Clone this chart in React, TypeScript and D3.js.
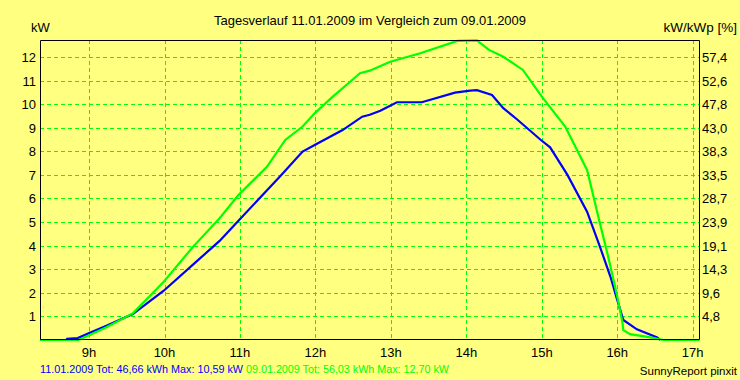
import React from "react";
import * as d3 from "d3";

const title = "Tagesverlauf 11.01.2009 im Vergleich zum 09.01.2009";
const hourTicks = [9, 10, 11, 12, 13, 14, 15, 16, 17];
const kwTicks = [1, 2, 3, 4, 5, 6, 7, 8, 9, 10, 11, 12];
const pctLabels = ["4,8", "9,6", "14,3", "19,1", "23,9", "28,7", "33,5", "38,3", "43,0", "47,8", "52,6", "57,4"];

// 11.01.2009 (blue)
const blueTimes = [8.35, 8.7, 8.71, 8.85, 9.01, 9.23, 9.58, 9.99, 10.47, 10.73, 10.98, 11.53, 11.83, 11.99, 12.36, 12.62, 12.72, 12.86, 13.08, 13.41, 13.85, 14.05, 14.14, 14.34, 14.49, 14.67, 14.98, 15.11, 15.34, 15.6, 15.77, 15.91, 16.0, 16.08, 16.26, 16.53, 16.57];
const blueValues = [0, 0, 0.05, 0.08, 0.31, 0.6, 1.1, 2.09, 3.46, 4.2, 5.06, 6.93, 7.99, 8.27, 8.9, 9.47, 9.55, 9.72, 10.08, 10.08, 10.49, 10.57, 10.59, 10.39, 9.83, 9.36, 8.5, 8.17, 7.0, 5.44, 3.96, 2.68, 1.7, 0.85, 0.45, 0.11, 0];

// 09.01.2009 (green)
const greenTimes = [8.35, 8.86, 9.01, 9.23, 9.58, 9.99, 10.38, 10.73, 10.98, 11.36, 11.6, 11.83, 11.99, 12.23, 12.46, 12.59, 12.72, 12.99, 13.39, 13.88, 14.14, 14.3, 14.49, 14.75, 15.0, 15.31, 15.6, 15.77, 15.88, 16.0, 16.07, 16.08, 16.17, 16.44, 16.61, 17.09];
const greenValues = [0, 0, 0.21, 0.54, 1.13, 2.47, 3.96, 5.16, 6.15, 7.35, 8.48, 9.05, 9.61, 10.32, 10.95, 11.31, 11.42, 11.8, 12.16, 12.68, 12.7, 12.3, 12.01, 11.45, 10.32, 9.05, 7.21, 4.95, 3.53, 1.84, 0.72, 0.42, 0.25, 0.11, 0, 0];

const legendBlue = "11.01.2009 Tot: 46,66 kWh Max: 10,59 kW";
const legendGreen = "09.01.2009 Tot: 56,03 kWh Max: 12,70 kW";
const credit = "SunnyReport pinxit";

const W = 740, H = 380;
const L = 40, R = 699, T = 40, B = 340;
const BG = "#ffff80";
const GRID = "#00ff00";
const FONT = "'Liberation Sans', Arial, sans-serif";

export default function App() {
  const x = d3.scaleLinear().domain([8 + 21 / 60, 17 + 5 / 60]).range([L, R]);
  const y = d3.scaleLinear().domain([0, 12.72]).range([B, T]);
  const line = d3.line<[number, number]>().x((d) => x(d[0])).y((d) => y(d[1]));
  const blue = blueTimes.map((t, i) => [t, blueValues[i]] as [number, number]);
  const green = greenTimes.map((t, i) => [t, greenValues[i]] as [number, number]);

  return (
    <div style={{ position: "fixed", left: 0, top: 0 }}>
      <svg width={W} height={H} style={{ display: "block" }} fontFamily={FONT}>
        <rect x={0} y={0} width={W} height={H} fill={BG} />
        <text x={370} y={25} fontSize={13} textAnchor="middle" fill="#000" textLength={312} lengthAdjust="spacingAndGlyphs">{title}</text>
        <text x={31} y={32} fontSize={13} fill="#000">kW</text>
        <text x={737} y={32} fontSize={13.5} textAnchor="end" fill="#000">kW/kWp [%]</text>

        {kwTicks.map((k) => (
          <line key={"h" + k} x1={L} x2={R} y1={Math.round(y(k)) + 0.5} y2={Math.round(y(k)) + 0.5} stroke={GRID} strokeDasharray="4,3" />
        ))}
        {hourTicks.map((h) => (
          <line key={"v" + h} x1={Math.round(x(h)) + 0.5} x2={Math.round(x(h)) + 0.5} y1={T} y2={B} stroke={GRID} strokeDasharray="4,3" />
        ))}

        <path d={line(blue) || ""} fill="none" stroke="#0000ff" strokeWidth={2.2} />
        <path d={line(green) || ""} fill="none" stroke="#00ff00" strokeWidth={2.2} />

        <path d={`M${L + 0.5},${T + 0.5}H${R + 0.5}V${B - 0.5}M${L + 0.5},${T + 0.5}V${B - 0.5}H${R + 0.5}`} fill="none" stroke="#000" strokeWidth={1} />

        {kwTicks.map((k) => (
          <text key={"lt" + k} x={36} y={y(k) + 5} fontSize={13} textAnchor="end" fill="#000">{k}</text>
        ))}
        {kwTicks.map((k, i) => (
          <text key={"rt" + k} x={702} y={y(k) + 5} fontSize={13} fill="#000">{pctLabels[i]}</text>
        ))}
        {hourTicks.map((h) => (
          <text key={"bt" + h} x={x(h)} y={357} fontSize={13} textAnchor="middle" fill="#000">{h}h</text>
        ))}

        <text x={40} y={373} fontSize={11.5} fill="#0000ff" textLength={203} lengthAdjust="spacingAndGlyphs">{legendBlue}</text>
        <text x={246} y={373} fontSize={11.5} fill="#00ff00" textLength={203} lengthAdjust="spacingAndGlyphs">{legendGreen}</text>
        <text x={737} y={375} fontSize={11.5} textAnchor="end" fill="#000">{credit}</text>
      </svg>
    </div>
  );
}
